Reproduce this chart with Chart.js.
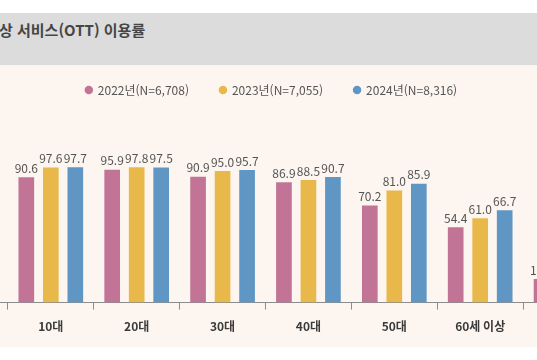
<!DOCTYPE html>
<html lang="ko">
<head>
<meta charset="utf-8">
<script src="https://cdn.jsdelivr.net/npm/chart.js@4.4.1/dist/chart.umd.min.js"></script>
<style>
  html, body { margin: 0; padding: 0; width: 537px; height: 360px; overflow: hidden; background: #ffffff; }
  .band { position: absolute; left: 0; top: 13px; width: 537px; height: 52px; background: #dcdcdc; }
  .title { position: absolute; left: -1px; top: 21px; font: bold 15px "Noto Sans CJK KR", sans-serif; color: #464646; line-height: 18px; white-space: nowrap; }
  .panel { position: absolute; left: 0; top: 65px; width: 537px; height: 282px; background: #fdf6f0; }
  .wrap { position: absolute; left: -78px; top: 53px; width: 687px; height: 291px; }
</style>
</head>
<body>
<div class="band"></div>
<div class="title">상 서비스(OTT) 이용률</div>
<div class="panel"></div>
<div class="wrap"><canvas id="ottChart"></canvas></div>
<script>
// 데이터 (그림에서 읽은 값, 화면 밖은 null)
const categories = ['', '10대', '20대', '30대', '40대', '50대', '60세 이상', ''];
const seriesNames = ['2022년(N=6,708)', '2023년(N=7,055)', '2024년(N=8,316)'];
const values2022 = [null, 90.6, 95.9, 90.9, 86.9, 70.2, 54.4, 17.0];
const values2023 = [null, 97.6, 97.8, 95.0, 88.5, 81.0, 61.0, null];
const values2024 = [null, 97.7, 97.5, 95.7, 90.7, 85.9, 66.7, null];
const seriesColors = ['#c27497', '#e8b84a', '#5f96c4'];

const fontFamily = '"Noto Sans CJK KR", "Noto Sans", sans-serif';

// 막대 위 값 라벨
const valueLabels = {
  id: 'valueLabels',
  afterDatasetsDraw(chart) {
    const { ctx } = chart;
    ctx.save();
    ctx.font = '12px ' + fontFamily;
    ctx.fillStyle = '#555555';
    ctx.textAlign = 'center';
    ctx.textBaseline = 'bottom';
    chart.data.datasets.forEach((ds, i) => {
      const meta = chart.getDatasetMeta(i);
      meta.data.forEach((bar, j) => {
        const v = ds.data[j];
        if (v === null || v === undefined) return;
        ctx.fillText(v.toFixed(1), bar.x, bar.y - 3);
      });
    });
    ctx.restore();
  }
};

// 범례를 살짝 오른쪽으로
const legendShift = {
  id: 'legendShift',
  afterLayout(chart) {
    if (chart.legend) {
      chart.legend.left += 6;
      chart.legend.right += 6;
    }
  }
};

const allSeries = [values2022, values2023, values2024];

new Chart(document.getElementById('ottChart'), {
  type: 'bar',
  data: {
    labels: categories,
    datasets: allSeries.map((vals, i) => ({
      label: seriesNames[i],
      data: vals,
      backgroundColor: seriesColors[i],
      borderWidth: 0,
      categoryPercentage: 0.856,
      barPercentage: 0.64,
    })),
  },
  options: {
    responsive: true,
    maintainAspectRatio: false,
    animation: false,
    layout: { padding: 0 },
    plugins: {
      tooltip: { enabled: false },
      legend: {
        display: true,
        position: 'top',
        labels: {
          usePointStyle: true,
          pointStyle: 'circle',
          boxWidth: 6,
          boxHeight: 6,
          padding: 31,
          color: '#555555',
          font: { family: fontFamily, size: 12 },
        },
      },
    },
    scales: {
      x: {
        grid: { display: true, drawOnChartArea: false, drawTicks: true, tickLength: 7, color: '#8c8c8c' },
        border: { display: true, color: '#8c8c8c', width: 1 },
        ticks: { color: '#3a3a3a', padding: 10, font: { family: fontFamily, size: 12, weight: 'bold' } },
      },
      y: {
        display: false,
        min: 0,
        max: 142,
      },
    },
  },
  plugins: [valueLabels, legendShift],
});
</script>
</body>
</html>
